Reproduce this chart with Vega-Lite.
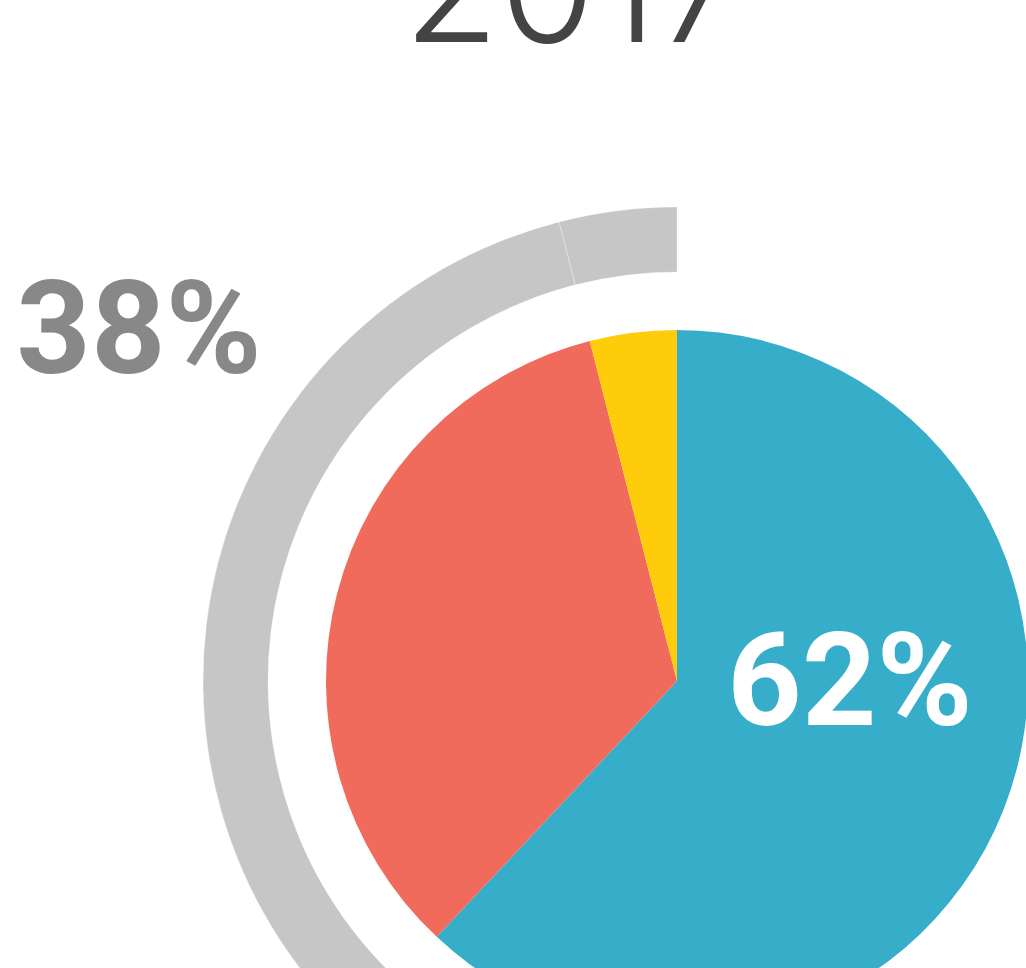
{
  "$schema": "https://vega.github.io/schema/vega-lite/v6.json",
  "autosize": {"type": "none"},
  "width": 1354,
  "height": 1362,
  "padding": 0,
  "background": "#ffffff",
  "config": {"view": {"stroke": null}},
  "datasets": {
    "shares": [
      {"segment": "A", "share": 62, "order": 1},
      {"segment": "B", "share": 34, "order": 2},
      {"segment": "C", "share": 4, "order": 3}
    ],
    "labels": [
      {"role": "title", "text": "2017"},
      {"role": "ring", "text": "38%"},
      {"role": "main", "text": "62%"}
    ]
  },
  "layer": [
    {
      "data": {"name": "shares"},
      "mark": {"type": "arc", "innerRadius": 409, "outerRadius": 474, "color": "#c6c6c6", "stroke": "#ffffff", "strokeWidth": 0.3},
      "encoding": {
        "theta": {"field": "share", "type": "quantitative", "stack": true},
        "order": {"field": "order", "type": "quantitative"},
        "opacity": {"condition": {"test": "datum.segment === 'A'", "value": 0}, "value": 1}
      }
    },
    {
      "data": {"name": "shares"},
      "mark": {"type": "arc", "outerRadius": 351},
      "encoding": {
        "theta": {"field": "share", "type": "quantitative", "stack": true},
        "order": {"field": "order", "type": "quantitative"},
        "color": {"field": "segment", "type": "nominal", "scale": {"domain": ["A", "B", "C"], "range": ["#37aec9", "#f16b5c", "#fecc0a"]}, "legend": null}
      }
    },
    {
      "data": {"name": "labels"},
      "transform": [{"filter": "datum.role === 'title'"}],
      "mark": {"type": "text", "font": "Inter", "fontWeight": 300, "fontSize": 156, "color": "#444444", "align": "center", "baseline": "alphabetic", "x": {"expr": "width/2 - 103"}, "y": {"expr": "height/2 - 639"}},
      "encoding": {"text": {"field": "text"}}
    },
    {
      "data": {"name": "labels"},
      "transform": [{"filter": "datum.role === 'ring'"}],
      "mark": {"type": "text", "font": "Roboto", "fontWeight": "bold", "fontSize": 130, "color": "#888888", "align": "center", "baseline": "alphabetic", "x": {"expr": "width/2 - 538"}, "y": {"expr": "height/2 - 308"}},
      "encoding": {"text": {"field": "text"}}
    },
    {
      "data": {"name": "labels"},
      "transform": [{"filter": "datum.role === 'main'"}],
      "mark": {"type": "text", "font": "Roboto", "fontWeight": "bold", "fontSize": 130, "color": "#ffffff", "align": "center", "baseline": "alphabetic", "x": {"expr": "width/2 + 173"}, "y": {"expr": "height/2 + 44"}},
      "encoding": {"text": {"field": "text"}}
    }
  ]
}
